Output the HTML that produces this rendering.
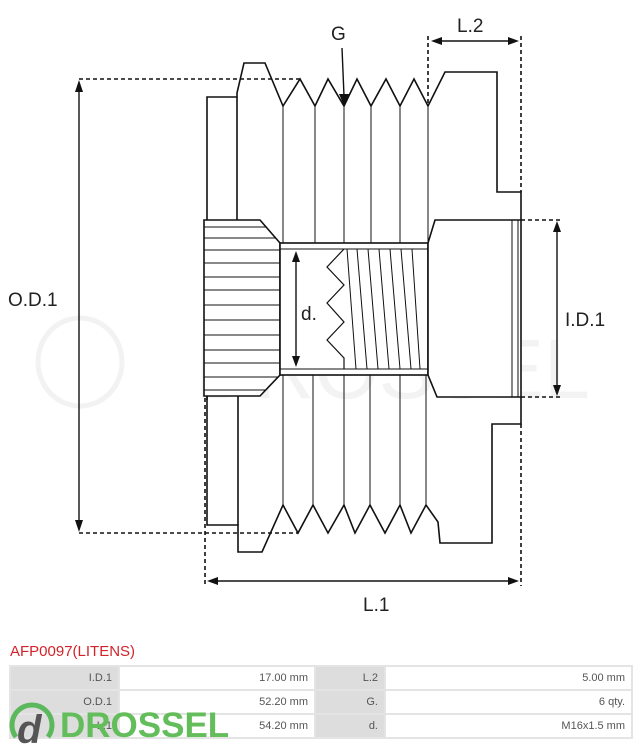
<!DOCTYPE html>
<html><head><meta charset="utf-8"><style>
body{margin:0;background:#fff;width:642px;height:750px;overflow:hidden;position:relative;font-family:"Liberation Sans",sans-serif}
svg{position:absolute;left:0;top:0}
.t{position:absolute;left:10px;top:643px;color:#d2232a;font-size:15px}
table{position:absolute;left:9px;top:665px;width:624px;border-collapse:collapse;font-size:11px;color:#555}
td{border:2px solid #e4e4e4;height:22px;text-align:right;padding:0 6px}
td.l{background:#ddd}
</style></head><body>
<svg width="642" height="640" viewBox="0 0 642 640" fill="none" stroke="#111" stroke-width="1.6">
<text x="195" y="398" font-size="84" fill="#f3f3f3" stroke="none" font-family="Liberation Sans" textLength="395" lengthAdjust="spacingAndGlyphs">DROSSEL</text>
<ellipse cx="80" cy="362" rx="42" ry="44" stroke="#f2f2f2" stroke-width="5"/>
<!-- upper outline -->
<polyline points="207,400 207,97 237,97 237,93 244,63 265,63 283,106 300,79 315,106 328,79 344,106 357,79 371,106 386,79 400,106 414,79 428,106 445,72 497,72 497,192 521,192 521,220"/>
<line x1="237" y1="97" x2="237" y2="220"/>
<!-- lower outline -->
<polyline points="207,396 207,525 238,525 238,552 262,552 283,505 298,533 313,505 328,533 344,505 355,533 370,505 385,533 400,505 411,533 426,505 438,522 440,543 492,543 492,424 521,424 521,397"/>
<line x1="238" y1="396" x2="238" y2="525"/>
<g stroke-width="1">
<line x1="283" y1="106" x2="283" y2="243"/><line x1="315" y1="106" x2="315" y2="243"/><line x1="344" y1="106" x2="344" y2="243"/><line x1="371" y1="106" x2="371" y2="243"/><line x1="400" y1="106" x2="400" y2="243"/><line x1="428" y1="106" x2="428" y2="243"/>
<line x1="283" y1="375" x2="283" y2="505"/><line x1="313" y1="375" x2="313" y2="505"/><line x1="344" y1="375" x2="344" y2="505"/><line x1="370" y1="375" x2="370" y2="505"/><line x1="400" y1="375" x2="400" y2="505"/><line x1="426" y1="375" x2="426" y2="505"/>
</g>
<polygon points="204,220 260,220 280,243 280,375 260,396 204,396" fill="#fff"/>
<g stroke-width="1">
<line x1="204" y1="227" x2="266" y2="227"/><line x1="204" y1="238" x2="276" y2="238"/><line x1="204" y1="250" x2="280" y2="250"/><line x1="204" y1="263" x2="280" y2="263"/><line x1="204" y1="277" x2="280" y2="277"/><line x1="204" y1="290" x2="280" y2="290"/><line x1="204" y1="305" x2="280" y2="305"/><line x1="204" y1="320" x2="280" y2="320"/><line x1="204" y1="335" x2="280" y2="335"/><line x1="204" y1="350" x2="280" y2="350"/><line x1="204" y1="363" x2="280" y2="363"/><line x1="204" y1="377" x2="278" y2="377"/><line x1="204" y1="390" x2="266" y2="390"/>
</g>
<rect x="280" y="243" width="148" height="132" fill="#fff"/>
<line x1="280" y1="249" x2="428" y2="249" stroke-width="1"/><line x1="280" y1="369" x2="428" y2="369" stroke-width="1"/>
<polyline points="344,249 327,267 344,285 327,303 344,322 327,340 344,358 344,369" stroke-width="1.2"/>
<g stroke-width="1">
<line x1="347" y1="249" x2="356" y2="369"/><line x1="357" y1="249" x2="367" y2="369"/><line x1="368" y1="249" x2="378" y2="369"/><line x1="379" y1="249" x2="389" y2="369"/><line x1="390" y1="249" x2="400" y2="369"/><line x1="401" y1="249" x2="411" y2="369"/><line x1="412" y1="249" x2="420" y2="369"/>
</g>
<polyline points="428,243 435,220 521,220 521,397 437,397 428,375 428,243" fill="#fff"/>
<line x1="512" y1="220" x2="512" y2="397" stroke-width="1"/><line x1="518" y1="220" x2="518" y2="397" stroke-width="1"/>
<g fill="#111" stroke-width="1.4"><line x1="296" y1="254" x2="296" y2="362"/><polygon points="292,262 300,262 296,251" stroke="none"/><polygon points="292,356 300,356 296,367" stroke="none"/></g>
<text x="301" y="320" font-size="19" fill="#222" stroke="none">d.</text>
<g stroke-dasharray="4,3" stroke-width="1.6">
<line x1="79" y1="79" x2="300" y2="79"/><line x1="79" y1="533" x2="298" y2="533"/>
<line x1="428" y1="36" x2="428" y2="104"/><line x1="521" y1="36" x2="521" y2="192"/>
<line x1="521" y1="220" x2="561" y2="220"/><line x1="521" y1="397" x2="561" y2="397"/>
<line x1="205" y1="398" x2="205" y2="586"/><line x1="521" y1="424" x2="521" y2="586"/>
</g>
<g fill="#111" stroke-width="1.4">
<line x1="79" y1="86" x2="79" y2="526"/><polygon points="75,92 83,92 79,80" stroke="none"/><polygon points="75,520 83,520 79,532" stroke="none"/>
<line x1="557" y1="226" x2="557" y2="391"/><polygon points="553,232 561,232 557,221" stroke="none"/><polygon points="553,385 561,385 557,396" stroke="none"/>
<line x1="212" y1="581" x2="514" y2="581"/><polygon points="218,577 218,585 207,581" stroke="none"/><polygon points="508,577 508,585 519,581" stroke="none"/>
<line x1="436" y1="41" x2="513" y2="41"/><polygon points="442,37 442,45 431,41" stroke="none"/><polygon points="508,37 508,45 519,41" stroke="none"/>
<line x1="342" y1="48" x2="344" y2="96"/><polygon points="339,94 349,94 344,106" stroke="none"/>
</g>
<g fill="#222" stroke="none" font-size="19">
<text x="331" y="40">G</text><text x="457" y="32">L.2</text><text x="8" y="306">O.D.1</text><text x="565" y="326">I.D.1</text><text x="363" y="611">L.1</text>
</g>
</svg>
<div class="t">AFP0097(LITENS)</div>
<table>
<tr><td class="l" style="width:95px">I.D.1</td><td style="width:182px">17.00 mm</td><td class="l" style="width:56px">L.2</td><td>5.00 mm</td></tr>
<tr><td class="l">O.D.1</td><td>52.20 mm</td><td class="l">G.</td><td>6 qty.</td></tr>
<tr><td class="l">L.1</td><td>54.20 mm</td><td class="l">d.</td><td>M16x1.5 mm</td></tr>
</table>
<svg width="250" height="60" style="top:693px" viewBox="0 0 250 60">
<path d="M16,44 A20,20 0 1 1 48,44" fill="none" stroke="#5cb85c" stroke-width="5"/>
<text x="17" y="50" font-size="40" font-weight="bold" font-style="italic" fill="#555" font-family="Liberation Sans">d</text>
<text x="60" y="44" font-size="35" font-weight="bold" fill="#62bd5a" font-family="Liberation Sans">DROSSEL</text>
</svg>
</body></html>
